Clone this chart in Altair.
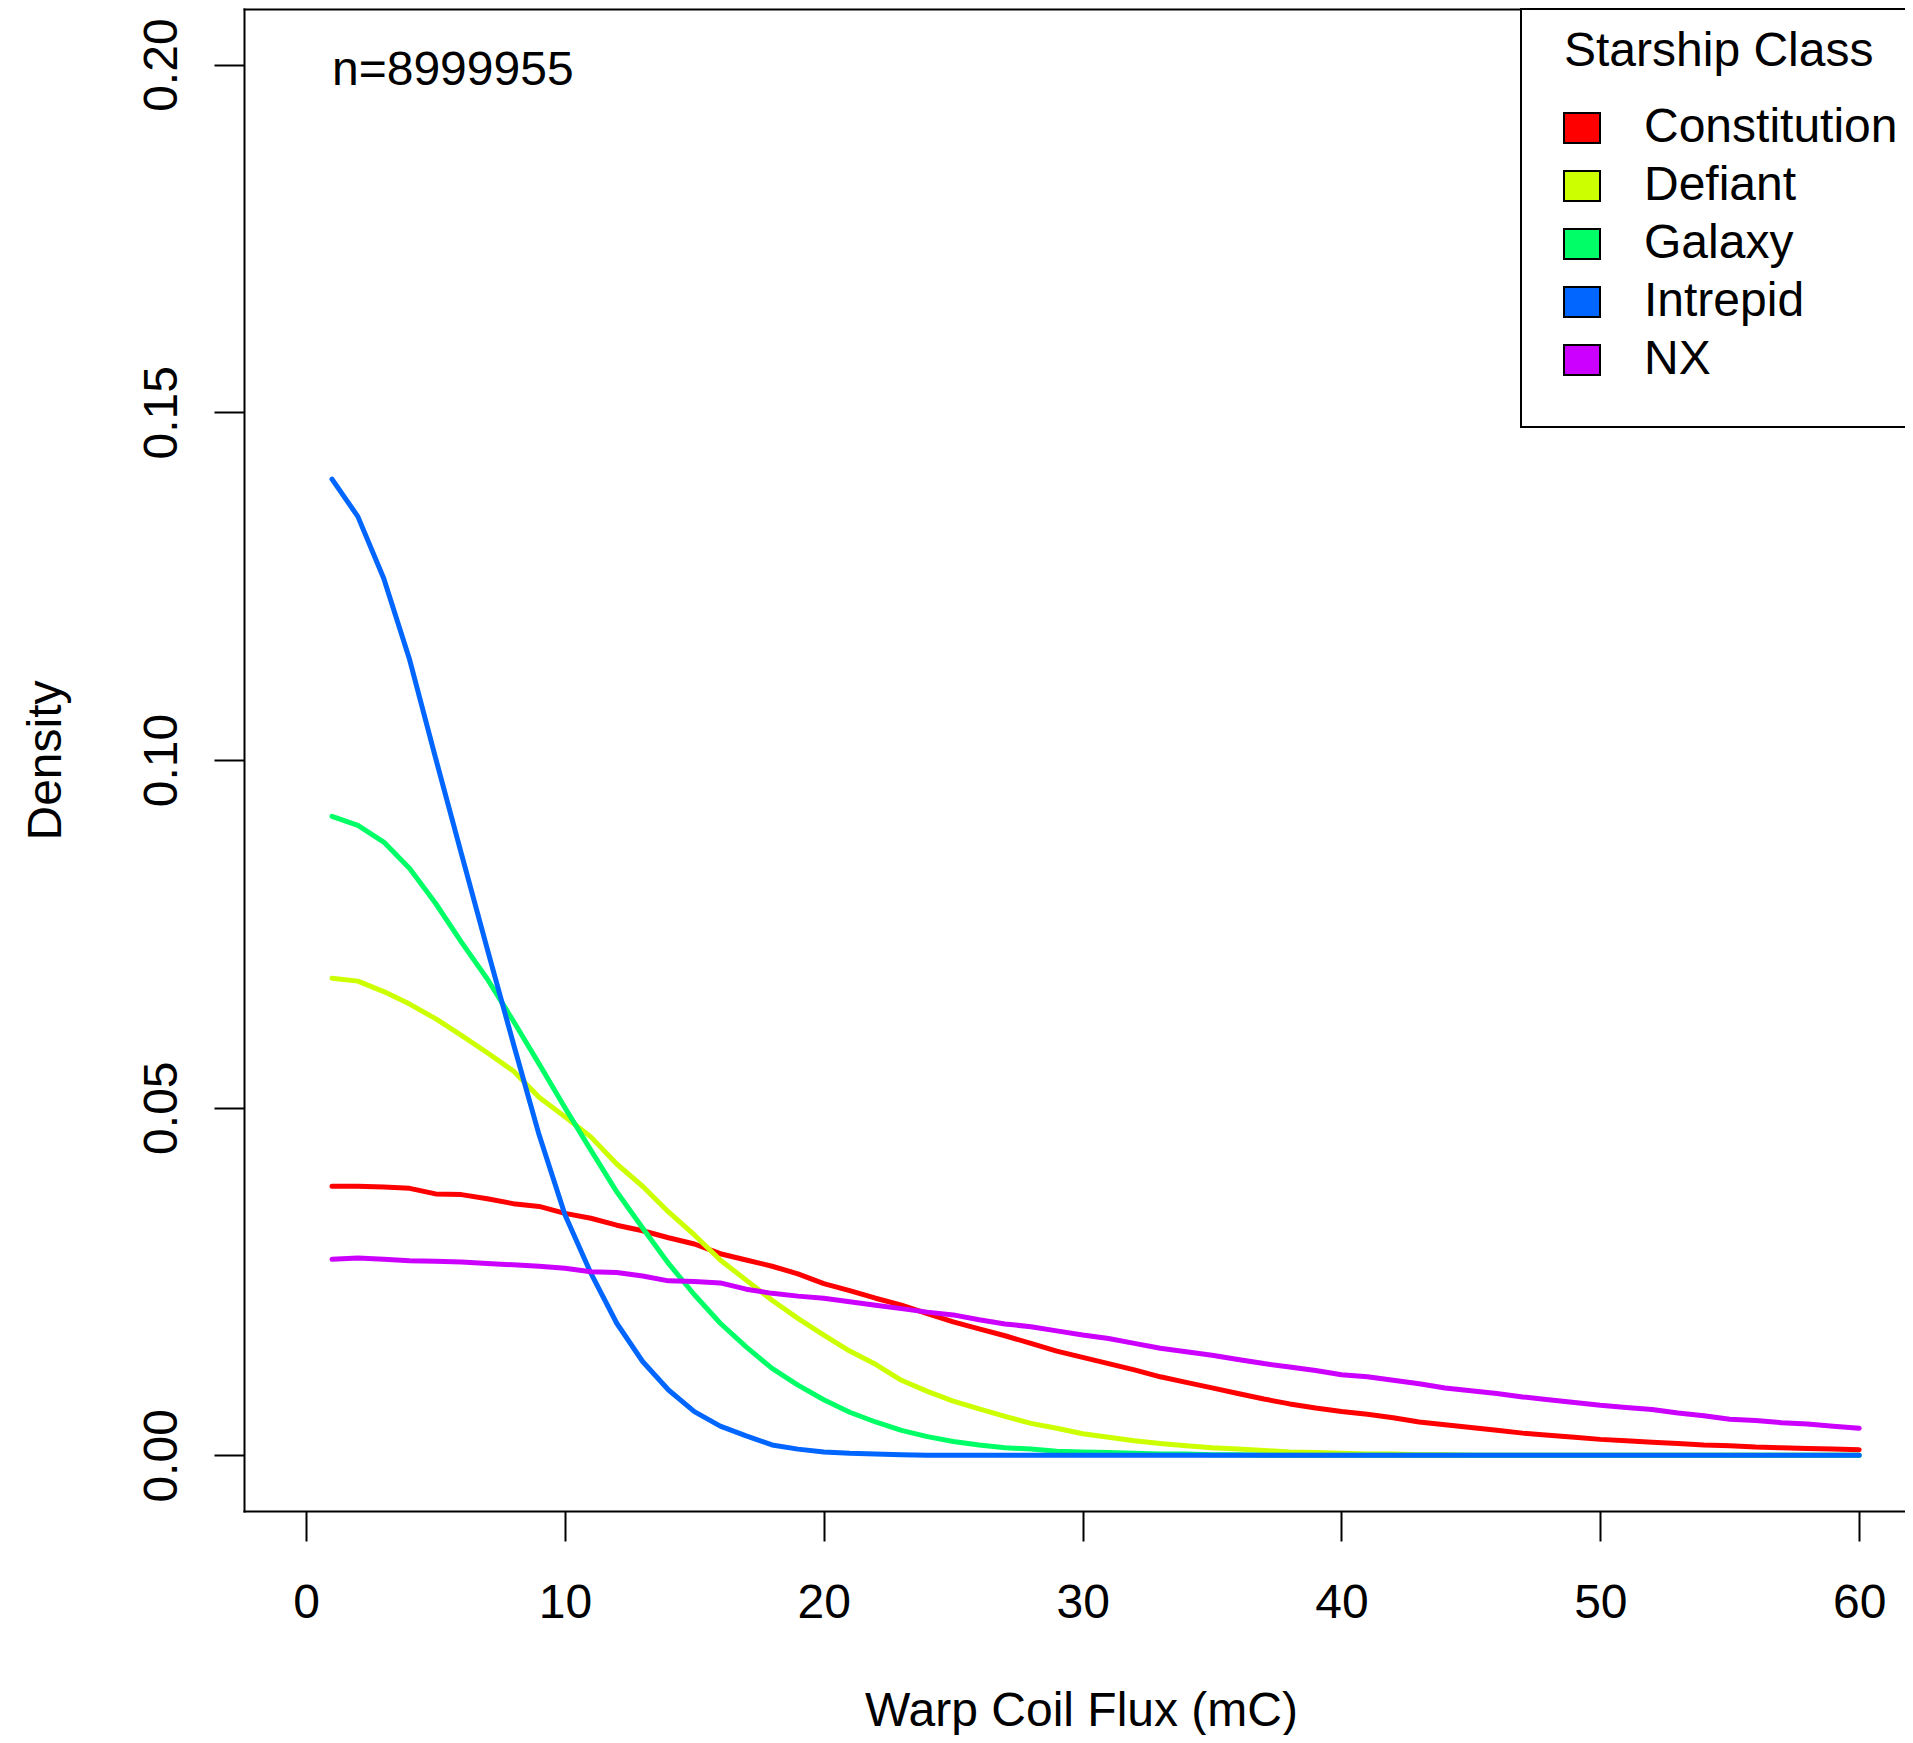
import altair as alt
import pandas as pd

flux = list(range(1, 61))
classes = ["Constitution", "Defiant", "Galaxy", "Intrepid", "NX"]
colors = ["#FF0000", "#CCFF00", "#00FF66", "#0066FF", "#CC00FF"]

constitution = [0.0387, 0.0387, 0.0386, 0.0384, 0.0376, 0.0375, 0.0369, 0.0362, 0.0358, 0.0348,
                0.0341, 0.0331, 0.0323, 0.0313, 0.0304, 0.0290, 0.0281, 0.0272, 0.0261, 0.0247,
                0.0237, 0.0226, 0.0216, 0.0204, 0.0192, 0.0182, 0.0172, 0.0161, 0.0150, 0.0141,
                0.0132, 0.0123, 0.0113, 0.0105, 0.0097, 0.0089, 0.0081, 0.0074, 0.0068, 0.0063,
                0.0059, 0.0054, 0.0048, 0.0044, 0.0040, 0.0036, 0.0032, 0.0029, 0.0026, 0.0023,
                0.0021, 0.0019, 0.0017, 0.0015, 0.0014, 0.0012, 0.0011, 0.0010, 0.0009, 0.0008]
defiant = [0.0686, 0.0682, 0.0667, 0.0649, 0.0628, 0.0604, 0.0579, 0.0553, 0.0515, 0.0487,
           0.0458, 0.0419, 0.0387, 0.0350, 0.0317, 0.0281, 0.0252, 0.0223, 0.0197, 0.0173,
           0.0150, 0.0131, 0.0108, 0.0092, 0.0078, 0.0067, 0.0056, 0.0046, 0.0039, 0.0031,
           0.0026, 0.0021, 0.0017, 0.0014, 0.0011, 0.0009, 0.0007, 0.0005, 0.0004, 0.0003,
           0.0002, 0.0002, 0.0001, 0.0001, 0.0, 0.0, 0.0, 0.0, 0.0, 0.0,
           0.0, 0.0, 0.0, 0.0, 0.0, 0.0, 0.0, 0.0, 0.0, 0.0]
galaxy = [0.0919, 0.0906, 0.0882, 0.0844, 0.0794, 0.0738, 0.0685, 0.0625, 0.0563, 0.0500,
          0.0439, 0.0379, 0.0327, 0.0276, 0.0231, 0.0190, 0.0156, 0.0125, 0.0101, 0.0080,
          0.0062, 0.0048, 0.0036, 0.0027, 0.0020, 0.0015, 0.0011, 0.0009, 0.0006, 0.0005,
          0.0004, 0.0003, 0.0002, 0.0002, 0.0001, 0.0001, 0.0, 0.0, 0.0, 0.0,
          0.0, 0.0, 0.0, 0.0, 0.0, 0.0, 0.0, 0.0, 0.0, 0.0,
          0.0, 0.0, 0.0, 0.0, 0.0, 0.0, 0.0, 0.0, 0.0, 0.0]
intrepid = [0.1404, 0.1350, 0.1261, 0.1144, 0.1003, 0.0865, 0.0728, 0.0593, 0.0461, 0.0346,
            0.0262, 0.0190, 0.0135, 0.0094, 0.0063, 0.0042, 0.0028, 0.0015, 0.0009, 0.0005,
            0.0003, 0.0002, 0.0001, 0.0, 0.0, 0.0, 0.0, 0.0, 0.0, 0.0,
            0.0, 0.0, 0.0, 0.0, 0.0, 0.0, 0.0, 0.0, 0.0, 0.0,
            0.0, 0.0, 0.0, 0.0, 0.0, 0.0, 0.0, 0.0, 0.0, 0.0,
            0.0, 0.0, 0.0, 0.0, 0.0, 0.0, 0.0, 0.0, 0.0, 0.0]
nx = [0.0282, 0.0284, 0.0282, 0.0280, 0.0279, 0.0278, 0.0276, 0.0274, 0.0272, 0.0269,
      0.0264, 0.0263, 0.0258, 0.0251, 0.0250, 0.0248, 0.0239, 0.0233, 0.0229, 0.0226,
      0.0221, 0.0216, 0.0211, 0.0206, 0.0202, 0.0195, 0.0189, 0.0185, 0.0179, 0.0173,
      0.0168, 0.0161, 0.0154, 0.0149, 0.0144, 0.0138, 0.0132, 0.0127, 0.0122, 0.0116,
      0.0113, 0.0108, 0.0103, 0.0097, 0.0093, 0.0089, 0.0084, 0.0080, 0.0076, 0.0072,
      0.0069, 0.0066, 0.0061, 0.0057, 0.0052, 0.0050, 0.0047, 0.0045, 0.0042, 0.0039]

x_ticks = [0, 10, 20, 30, 40, 50, 60]
y_ticks = [0.0, 0.05, 0.10, 0.15, 0.20]
note_text = "n=8999955"

series = [constitution, defiant, galaxy, intrepid, nx]
rows = []
for name, hexcol, vals in zip(classes, colors, series):
    for xv, yv in zip(flux, vals):
        rows.append({"flux": xv, "density": yv, "cls": name, "hex": hexcol})
df = pd.DataFrame(rows)
note_df = pd.DataFrame({"flux": [1], "density": [0.20], "label": [note_text]})

FONT = "Liberation Sans"

x_scale = alt.Scale(domain=[-2.4, 61.77], nice=False, zero=False)
y_scale = alt.Scale(domain=[-0.008, 0.208], nice=False, zero=False)

x_axis = alt.Axis(
    orient="bottom", values=x_ticks, format="d", title="Warp Coil Flux (mC)",
    domain=True, domainColor="black", domainWidth=2, domainCap="square",
    grid=False, ticks=True, tickSize=30, tickWidth=2, tickColor="black",
    labelFontSize=48, labelFont=FONT, labelColor="black", labelPadding=38,
    labelFlush=False, labelOverlap=False,
    titleFontSize=48, titleFont=FONT, titleFontWeight="normal", titleColor="black",
    titleX=837, titleY=214, titleBaseline="alphabetic", titleAlign="center",
)
x_axis_top = alt.Axis(
    orient="top", domain=True, domainColor="black", domainWidth=2, domainCap="square",
    labels=False, ticks=False, grid=False, title=None,
)
y_axis = alt.Axis(
    values=y_ticks, format=".2f", title="Density",
    domain=True, domainColor="black", domainWidth=2, domainCap="square",
    grid=False, ticks=True, tickSize=30, tickWidth=2, tickColor="black",
    labelFontSize=48, labelFont=FONT, labelColor="black", labelPadding=38,
    labelAngle=270, labelAlign="center", labelBaseline="alphabetic",
    labelFlush=False, labelOverlap=False,
    titleFontSize=48, titleFont=FONT, titleFontWeight="normal", titleColor="black",
    titleAngle=270, titleX=-184, titleY=751, titleBaseline="alphabetic", titleAlign="center",
)

y_enc = alt.Y("density:Q", scale=y_scale, axis=y_axis)

legend = alt.Legend(
    title="Starship Class", orient="none", legendX=1277, legendY=0,
    strokeColor="black", fillColor="white", padding=43,
    titleFontSize=48, titleFont=FONT, titleFontWeight="normal", titleColor="black",
    titleBaseline="middle", titlePadding=4, titleLimit=1000,
    labelFontSize=48, labelFont=FONT, labelColor="black", labelLimit=1000, labelOffset=38,
    symbolType="M-1,-0.833H1V0.833H-1Z", symbolSize=1296,
    symbolStrokeColor="black", symbolStrokeWidth=2, symbolOpacity=1,
    symbolOffset=-6, rowPadding=10,
)

lines = alt.Chart(df).mark_line(strokeWidth=5, strokeCap="round", strokeJoin="round").encode(
    x=alt.X("flux:Q", scale=x_scale, axis=x_axis),
    y=y_enc,
    color=alt.Color("hex:N", scale=None),
    detail="cls:N",
)

keys = alt.Chart(df).mark_point(filled=True, size=0, opacity=1).encode(
    x=alt.X("flux:Q", scale=x_scale, axis=None),
    y=y_enc,
    fill=alt.Fill("cls:N", scale=alt.Scale(domain=classes, range=colors), legend=legend),
)

note = alt.Chart(note_df).mark_text(
    align="left", baseline="alphabetic", dy=20, fontSize=48, font=FONT, color="black"
).encode(
    x=alt.X("flux:Q", scale=x_scale, axis=x_axis_top),
    y=y_enc,
    text="label:N",
)

chart = alt.layer(lines, keys, note).resolve_axis(x="independent").properties(
    width=1661, height=1502,
    padding={"left": 236, "top": 1, "right": 0, "bottom": 224},
    autosize=alt.AutoSizeParams(type="none"),
).configure(font=FONT).configure_view(stroke=None).configure_legend(strokeWidth=2)

chart.save("out.html", embed_options={"renderer": "svg", "actions": False})
